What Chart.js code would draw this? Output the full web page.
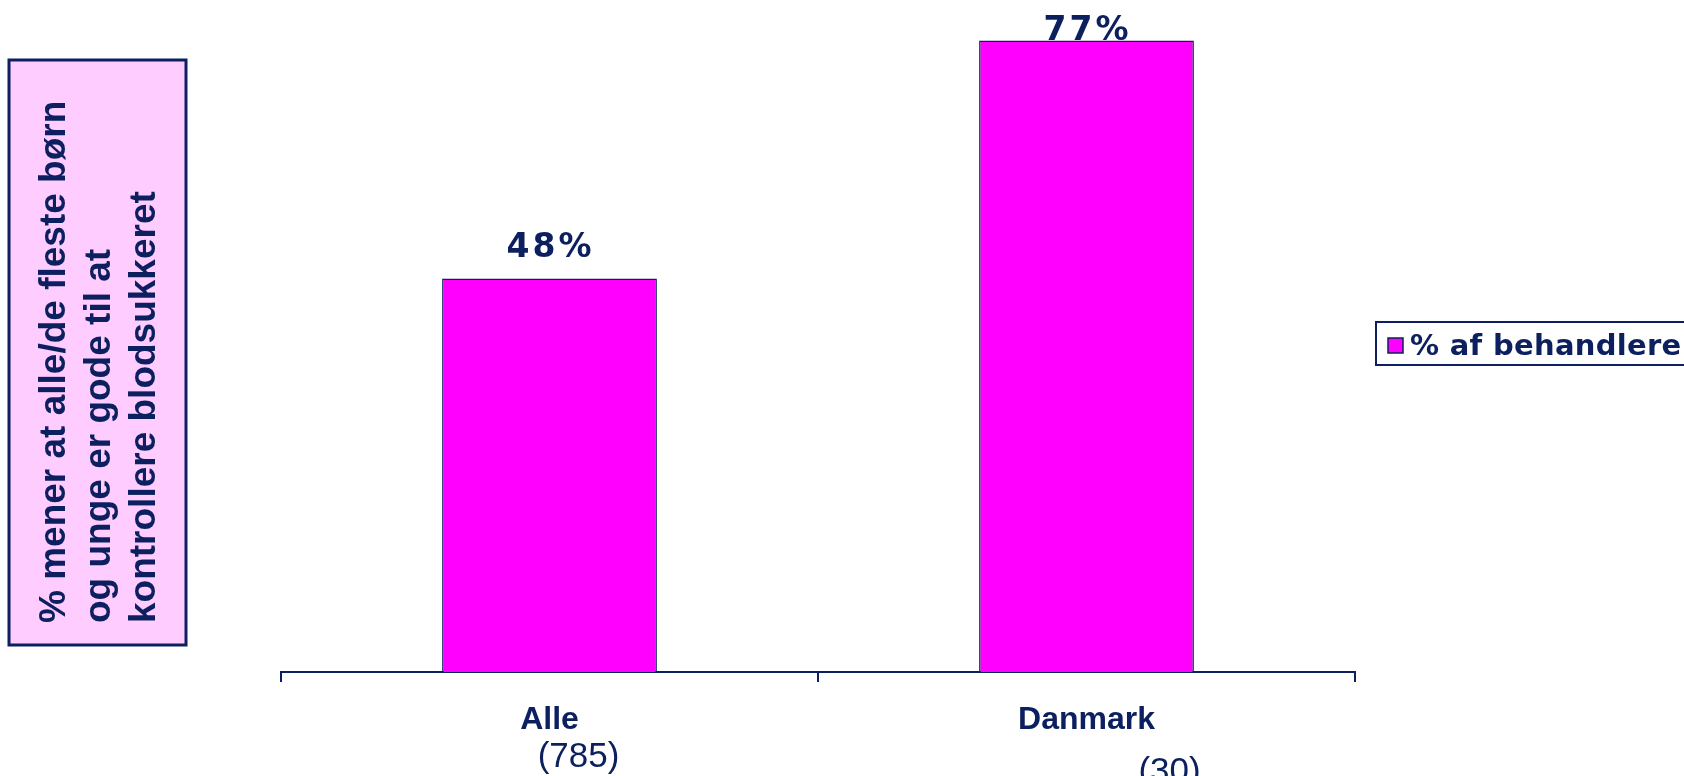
<!DOCTYPE html>
<html>
<head>
<meta charset="utf-8">
<title>% af behandlere</title>
<script src="https://cdn.jsdelivr.net/npm/chart.js@4/dist/chart.umd.min.js"></script>
<style>
  html, body { margin: 0; padding: 0; background: #fff; overflow: hidden; }
  canvas { display: block; }
</style>
</head>
<body>
<canvas id="chart" width="1684" height="776"></canvas>
<script>
// data
const categories = ['Alle', 'Danmark'];
const sampleSizes = ['(785)', '(30)'];
const values = [48, 77];
const seriesName = '% af behandlere';
const yTitleLines = ['% mener at alle/de fleste børn', 'og unge er gode til at', 'kontrollere blodsukkeret'];

const NAVY = '#0c1f5e';
const MAGENTA = '#ff00ff';
const PINK = '#ffccff';

// sample sizes sit a bit right of the category name in the original
const sampleShift = [29, 83];

const decor = {
  id: 'decor',
  afterDraw(chart) {
    const ctx = chart.ctx;
    const x = chart.scales.x;
    const area = chart.chartArea;
    ctx.save();

    // y-axis title box
    ctx.fillStyle = PINK;
    ctx.fillRect(9, 60, 177, 585);
    ctx.strokeStyle = NAVY;
    ctx.lineWidth = 3;
    ctx.strokeRect(9, 60, 177, 585);
    ctx.fillStyle = NAVY;
    ctx.font = 'bold 37px "Liberation Sans", Arial, sans-serif';
    ctx.textAlign = 'left';
    ctx.textBaseline = 'alphabetic';
    yTitleLines.forEach((line, i) => {
      ctx.save();
      ctx.translate(65 + i * 45, 623);
      ctx.rotate(-Math.PI / 2);
      ctx.fillText(line, 0, 0);
      ctx.restore();
    });

    // value labels above bars
    const meta = chart.getDatasetMeta(0);
    ctx.font = 'bold 33px "DejaVu Sans", Verdana, sans-serif';
    ctx.letterSpacing = '3px';
    ctx.textAlign = 'center';
    meta.data.forEach((bar, i) => {
      const y = Math.max(bar.y - 21, area.top + 24);
      ctx.fillText(values[i] + '%', bar.x + 1, y);
    });
    ctx.letterSpacing = '0px';

    // category labels and sample sizes
    categories.forEach((c, i) => {
      const px = x.getPixelForValue(i);
      ctx.font = 'bold 32px "Liberation Sans", Arial, sans-serif';
      ctx.fillText(c, px, 729);
      ctx.font = '35px "Liberation Sans", Arial, sans-serif';
      ctx.fillText(sampleSizes[i], px + sampleShift[i], 767 + i * 15);
    });

    // legend box
    ctx.lineWidth = 2;
    ctx.strokeStyle = NAVY;
    ctx.fillStyle = '#fff';
    ctx.fillRect(1376, 322, 320, 43);
    ctx.strokeRect(1376, 322, 320, 43);
    ctx.fillStyle = MAGENTA;
    ctx.fillRect(1388, 338, 15, 15);
    ctx.lineWidth = 1.5;
    ctx.strokeRect(1388, 338, 15, 15);
    ctx.fillStyle = NAVY;
    ctx.textAlign = 'left';
    ctx.font = 'bold 29px "DejaVu Sans", Verdana, sans-serif';
    ctx.letterSpacing = '0.3px';
    ctx.fillText(seriesName, 1410, 355);
    ctx.letterSpacing = '0px';

    ctx.restore();
  }
};

new Chart(document.getElementById('chart'), {
  type: 'bar',
  data: {
    labels: categories,
    datasets: [{
      label: seriesName,
      data: values,
      backgroundColor: MAGENTA,
      borderColor: NAVY,
      borderWidth: 1.5,
      barPercentage: 0.4,
      categoryPercentage: 1
    }]
  },
  options: {
    responsive: false,
    animation: false,
    layout: { padding: { left: 281, right: 329, top: 16, bottom: 0 } },
    plugins: { legend: { display: false }, tooltip: { enabled: false } },
    scales: {
      x: {
        offset: true,
        grid: { display: true, drawOnChartArea: false, offset: true, color: NAVY, lineWidth: 2, tickLength: 10 },
        border: { color: NAVY, width: 2 },
        ticks: { display: false },
        afterFit(s) { s.height = 104; }
      },
      y: { display: false, min: 0, max: 80 }
    }
  },
  plugins: [decor]
});
</script>
</body>
</html>
